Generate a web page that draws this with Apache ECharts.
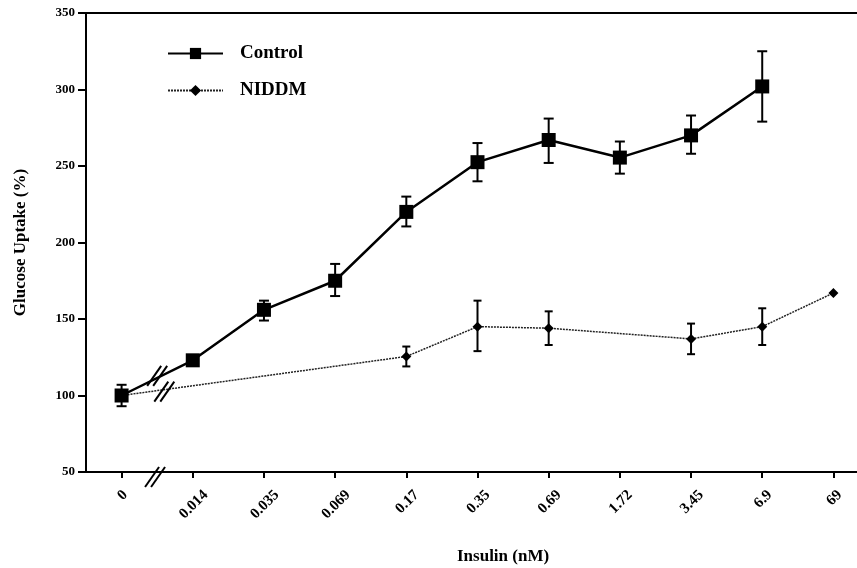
<!DOCTYPE html>
<html>
<head>
<meta charset="utf-8">
<script src="https://cdn.jsdelivr.net/npm/echarts@6/dist/echarts.min.js"></script>
<style>html,body{margin:0;padding:0;background:#fff;overflow:hidden;width:857px;height:568px;}#c{width:870px;height:568px;}</style>
</head>
<body>
<div id="c"></div>
<script>
const categories = ['0', '0.014', '0.035', '0.069', '0.17', '0.35', '0.69', '1.72', '3.45', '6.9', '69'];
const controlValues = [100, 123, 156, 175, 220, 252.5, 267, 255.5, 270, 302, null];
const niddmValues = [100, null, null, null, 125.5, 145, 144, null, 137, 145, 167];
const controlErrLow = [93, null, 149, 165, 210.5, 240, 252, 245, 258, 279, null];
const controlErrHigh = [107, null, 162, 186, 230, 265, 281, 266, 283, 325, null];
const niddmErrLow = [null, null, null, null, 119, 129, 133, null, 127, 133, null];
const niddmErrHigh = [null, null, null, null, 132, 162, 155, null, 147, 157, null];
const yMin = 50, yMax = 350, yStep = 50;

const FONT = '"Liberation Serif", "Times New Roman", serif';
const XLABEL_SIZE = 15;

function errData(lo, hi) {
  const out = [];
  for (let i = 0; i < lo.length; i++) {
    if (lo[i] != null && hi[i] != null) out.push([i, lo[i], hi[i]]);
  }
  return out;
}
function errRender(capHalf, width) {
  return function (params, api) {
    const x = api.value(0);
    const lo = api.coord([x, api.value(1)]);
    const hi = api.coord([x, api.value(2)]);
    const st = { stroke: '#000', lineWidth: width };
    return {
      type: 'group',
      children: [
        { type: 'line', shape: { x1: lo[0], y1: lo[1], x2: hi[0], y2: hi[1] }, style: st },
        { type: 'line', shape: { x1: lo[0] - capHalf, y1: lo[1], x2: lo[0] + capHalf, y2: lo[1] }, style: st },
        { type: 'line', shape: { x1: hi[0] - capHalf, y1: hi[1], x2: hi[0] + capHalf, y2: hi[1] }, style: st }
      ]
    };
  };
}

const chart = echarts.init(document.getElementById('c'), null, { renderer: 'canvas' });
const option = {
  backgroundColor: '#fff',
  animation: false,
  grid: { left: 86, top: 13, width: 783, height: 459, containLabel: false },
  legend: {
    data: ['Control', 'NIDDM'],
    orient: 'vertical',
    left: 167,
    top: 44,
    padding: 0,
    itemWidth: 55,
    itemHeight: 14,
    itemGap: 18,
    textStyle: { fontFamily: FONT, fontWeight: 'bold', fontSize: 19, color: '#000', padding: [0, 0, 0, 12] }
  },
  xAxis: [{
    type: 'category',
    data: categories,
    boundaryGap: true,
    axisLine: { show: true, lineStyle: { color: '#000', width: 2 } },
    axisTick: { show: true, alignWithLabel: true, length: 6, lineStyle: { color: '#000', width: 2 } },
    axisLabel: { show: false },
    splitLine: { show: false }
  }, {
    type: 'category',
    data: categories,
    position: 'top',
    axisLine: { show: true, lineStyle: { color: '#000', width: 2 } },
    axisTick: { show: false },
    axisLabel: { show: false },
    splitLine: { show: false }
  }],
  yAxis: {
    type: 'value',
    min: yMin, max: yMax, interval: yStep,
    name: 'Glucose Uptake (%)',
    nameLocation: 'middle',
    nameGap: 57,
    nameTextStyle: { fontFamily: FONT, fontWeight: 'bold', fontSize: 17, color: '#000' },
    axisLine: { show: true, lineStyle: { color: '#000', width: 2 } },
    axisTick: { show: true, length: 8, lineStyle: { color: '#000', width: 2 } },
    axisLabel: { margin: 11, fontFamily: FONT, fontWeight: 'bold', fontSize: 13, color: '#000' },
    splitLine: { show: false }
  },
  graphic: [{
    type: 'text',
    left: 457,
    top: 548,
    style: { text: 'Insulin (nM)', fontFamily: FONT, fontWeight: 'bold', fontSize: 17, fill: '#000' }
  }],
  series: [
    {
      type: 'custom',
      name: 'ctrlErr',
      renderItem: errRender(5, 2),
      data: errData(controlErrLow, controlErrHigh),
      encode: { x: 0, y: [1, 2] },
      z: 1,
      silent: true
    },
    {
      type: 'custom',
      name: 'niddmErr',
      renderItem: errRender(4, 2),
      data: errData(niddmErrLow, niddmErrHigh),
      encode: { x: 0, y: [1, 2] },
      z: 1,
      silent: true
    },
    {
      name: 'NIDDM',
      type: 'line',
      data: niddmValues,
      connectNulls: true,
      symbol: 'diamond',
      symbolSize: 10,
      itemStyle: { color: '#000' },
      lineStyle: { color: '#222', width: 1.5, type: [2, 1] },
      z: 2
    },
    {
      name: 'Control',
      type: 'line',
      data: controlValues,
      symbol: 'rect',
      symbolSize: 14,
      itemStyle: { color: '#000' },
      lineStyle: { color: '#000', width: 2.5 },
      z: 3
    }
  ]
};
chart.setOption(option);

const axisY = chart.convertToPixel({ yAxisIndex: 0 }, yMin);

// Rotated category labels: each label's bounding box is centred under its tick
const mctx = document.createElement('canvas').getContext('2d');
mctx.font = 'bold ' + XLABEL_SIZE + 'px ' + FONT;
const labelEls = categories.map(function (c, i) {
  const tx = chart.convertToPixel({ xAxisIndex: 0 }, c);
  const L = mctx.measureText(c).width;
  const half = 0.3536 * (L + 0.68 * XLABEL_SIZE);
  return {
    type: 'text',
    x: tx + 1,
    y: axisY + 17 + half,
    rotation: Math.PI / 4,
    style: {
      text: c, align: 'center', verticalAlign: 'middle',
      fontFamily: FONT, fontWeight: 'bold', fontSize: XLABEL_SIZE, fill: '#000'
    },
    z: 10
  };
});

// Axis-break marks, positioned through the chart's own scales
function breakMark(cx, cy, color) {
  const els = [];
  [-3, 3].forEach(function (dx) {
    els.push({
      type: 'line',
      shape: { x1: cx + dx - 7, y1: cy + 10, x2: cx + dx + 7, y2: cy - 10 },
      style: { stroke: color, lineWidth: 2 },
      z: 10
    });
  });
  return els;
}
const c0 = chart.convertToPixel({ seriesIndex: 3 }, [0, controlValues[0]]);
const c1 = chart.convertToPixel({ seriesIndex: 3 }, [1, controlValues[1]]);
const n0 = chart.convertToPixel({ seriesIndex: 2 }, [0, niddmValues[0]]);
const n4 = chart.convertToPixel({ seriesIndex: 2 }, [4, niddmValues[4]]);
const band = c1[0] - c0[0];
const extra = [];
extra.push.apply(extra, breakMark(c0[0] + band * 0.5, c0[1] + (c1[1] - c0[1]) * 0.5 - 2, '#000'));
const nx = c0[0] + band * 0.6;
const nt = (nx - n0[0]) / (n4[0] - n0[0]);
extra.push.apply(extra, breakMark(nx, n0[1] + (n4[1] - n0[1]) * nt + 2, '#000'));
extra.push.apply(extra, breakMark(c0[0] + band * 0.47, axisY + 5, '#000'));
chart.setOption({ graphic: option.graphic.concat(extra, labelEls) });
</script>
</body>
</html>
